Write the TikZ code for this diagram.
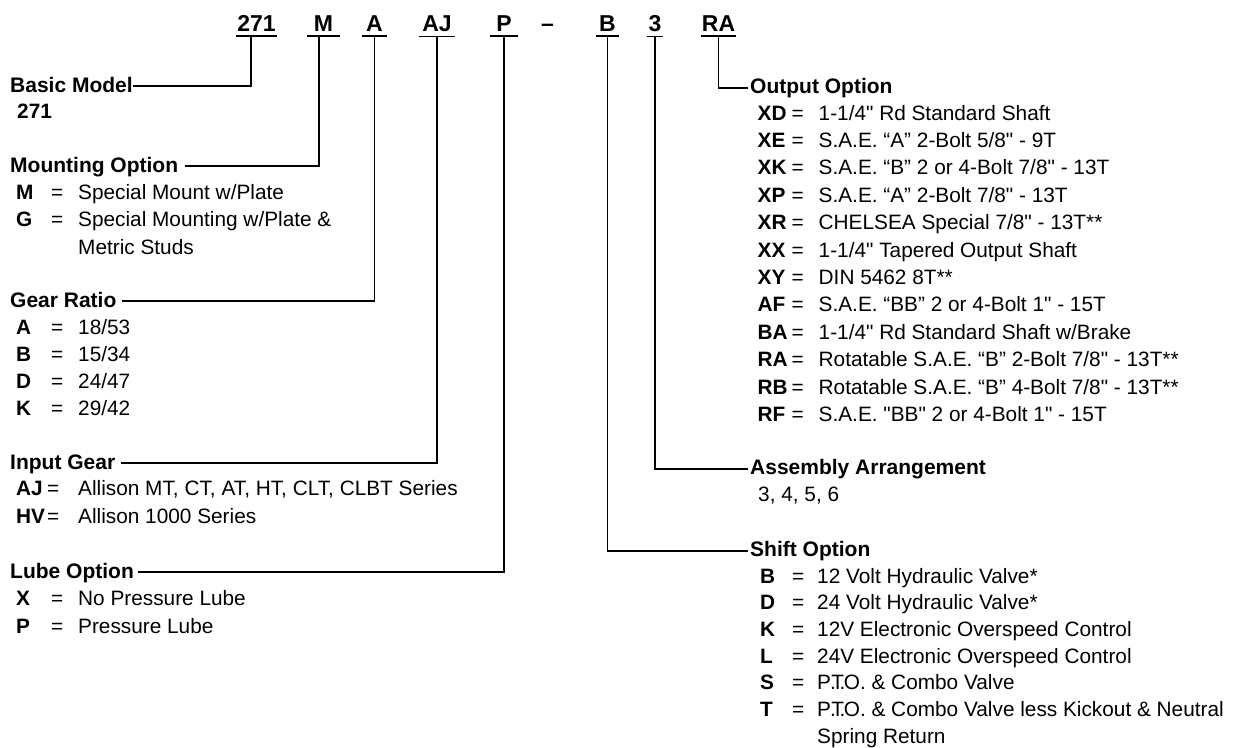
\documentclass[tikz,border=0pt]{standalone}
\usepackage{fontspec}
\setmainfont{Liberation Sans}[Ligatures=TeXOff]
\usetikzlibrary{positioning,calc}

% key, equals sign and text of one option line
\newcommand{\optrow}[4]{\makebox[#1][l]{\textbf{#3}}\makebox[#2][l]{=}#4}
\newcommand{\pto}{P\kern-1pt.\kern-4.5pt T\kern-4.5pt.\kern-1.5pt O.}

\begin{document}
\begin{tikzpicture}[
  x=1pt, y=-1pt,
  code/.style={font=\fontsize{23pt}{23pt}\selectfont\bfseries, inner xsep=0pt, inner ysep=5pt, anchor=base},
  head/.style={font=\fontsize{21pt}{25pt}\selectfont\bfseries, inner sep=0pt, anchor=base west},
  opt/.style={font=\fontsize{20.8pt}{25pt}\selectfont, inner sep=0pt, anchor=base west},
  link/.style={line width=1.5pt}
]
\path[use as bounding box, fill=white] (0,0) rectangle (1238,747);

% model code
\node[code, minimum width=41pt] (c271) at (256.5,31) {271};
\node[code, minimum width=33pt] (cM) at (323.5,31) {M};
\node[code, minimum width=25pt] (cA) at (374.5,31) {A};
\node[code, minimum width=36pt] (cAJ) at (437,31) {AJ};
\node[code, minimum width=28pt] (cP) at (504,31) {P};
\node[code] (cdash) at (547.5,31) {–};
\node[code, minimum width=23pt] (cB) at (607.5,31) {B};
\node[code, minimum width=16pt] (c3) at (655,31) {3};
\node[code, minimum width=35pt] (cRA) at (718.5,31) {RA};
\foreach \c in {c271,cM,cA,cAJ,cP,cB,c3,cRA}
  \draw[link] (\c.south west) -- (\c.south east);

% left column
\node[head] (bm) at (10,92) {Basic Model};
\node[opt] (bm-0) at (17,118) {\textbf{271}};

\node[head] (mnt) at (10,172) {Mounting Option};
\foreach \k/\v [count=\i from 0] in {M/{Special Mount w/Plate}, G/{Special Mounting w/Plate \&}}
  \node[opt] (mnt-\i) at (16,{199+27.5*\i}) {\optrow{35pt}{27pt}{\k}{\v}};
\node[opt] (mnt-1b) at (78,254) {Metric Studs};

\node[head] (gear) at (10,307) {Gear Ratio};
\foreach \k/\v [count=\i from 0] in {A/{18/53}, B/{15/34}, D/{24/47}, K/{29/42}}
  \node[opt] (gear-\i) at (16,{334+27.3*\i}) {\optrow{35pt}{27pt}{\k}{\v}};

\node[head] (inp) at (10,469) {Input Gear};
\foreach \k/\v [count=\i from 0] in {AJ/{Allison MT, CT, AT, HT, CLT, CLBT Series}, HV/{Allison 1000 Series}}
  \node[opt] (inp-\i) at (16,{495+28*\i}) {\optrow{31pt}{31pt}{\k}{\v}};

\node[head] (lube) at (10,578) {Lube Option};
\foreach \k/\v [count=\i from 0] in {X/{No Pressure Lube}, P/{Pressure Lube}}
  \node[opt] (lube-\i) at (16,{605.5+27.5*\i}) {\optrow{35pt}{27pt}{\k}{\v}};

% right column
\node[head] (outp) at (750,93) {Output Option};
\foreach \k/\v [count=\i from 0] in {
    XD/{1-1/4" Rd Standard Shaft},
    XE/{S.A.E. “A” 2-Bolt 5/8" - 9T},
    XK/{S.A.E. “B” 2 or 4-Bolt 7/8" - 13T},
    XP/{S.A.E. “A” 2-Bolt 7/8" - 13T},
    XR/{CHELSEA Special 7/8" - 13T**},
    XX/{1-1/4" Tapered Output Shaft},
    XY/{DIN 5462 8T**},
    AF/{S.A.E. “BB” 2 or 4-Bolt 1" - 15T},
    BA/{1-1/4" Rd Standard Shaft w/Brake},
    RA/{Rotatable S.A.E. “B” 2-Bolt 7/8" - 13T**},
    RB/{Rotatable S.A.E. “B” 4-Bolt 7/8" - 13T**},
    RF/{S.A.E. "BB" 2 or 4-Bolt 1" - 15T}}
  \node[opt] (outp-\i) at (757.5,{120+27.4*\i}) {\optrow{34pt}{27pt}{\k}{\v}};

\node[head] (asm) at (750,474) {Assembly Arrangement};
\node[opt] (asm-0) at (758,501) {3, 4, 5, 6};

\node[head] (shf) at (750,556) {Shift Option};
\foreach \k/\v [count=\i from 0] in {
    B/{12 Volt Hydraulic Valve*},
    D/{24 Volt Hydraulic Valve*},
    K/{12V Electronic Overspeed Control},
    L/{24V Electronic Overspeed Control},
    S/{\pto{} \& Combo Valve},
    T/{\pto{} \& Combo Valve less Kickout \& Neutral}}
  \node[opt] (shf-\i) at (760,{583+26.7*\i}) {\optrow{32pt}{25pt}{\k}{\v}};
\node[opt] (shf-5b) at (817,743) {Spring Return};

% leaders from headings up to the code
\draw[link] ([yshift=6pt]bm.base east) -| ([xshift=-5.5pt]c271.south);
\draw[link] ([xshift=7pt,yshift=6pt]mnt.base east) -| ([xshift=-4.5pt]cM.south);
\draw[link] ([xshift=5pt,yshift=6pt]gear.base east) -| (cA.south);
\draw[link] ([xshift=6pt,yshift=6pt]inp.base east) -| (cAJ.south);
\draw[link] ([xshift=4pt,yshift=6pt]lube.base east) -| (cP.south);
\draw[link] ([xshift=-2pt,yshift=5pt]outp.base west) -| (cRA.south);
\draw[link] ([xshift=-2pt,yshift=5pt]asm.base west) -| (c3.south);
\draw[link] ([xshift=-2pt,yshift=5pt]shf.base west) -| (cB.south);
\end{tikzpicture}
\end{document}
